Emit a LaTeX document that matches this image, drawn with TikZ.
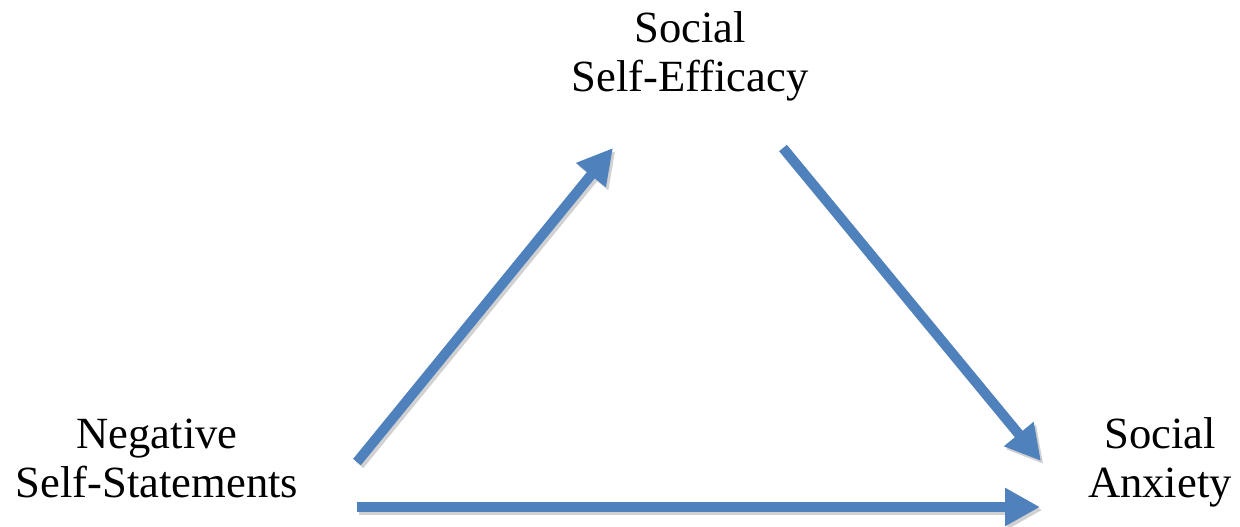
\documentclass[tikz,border=0pt]{standalone}
\usepackage{fontspec}
\setmainfont{Liberation Serif}
\usepackage{tikz}
\usetikzlibrary{arrows.meta}
\definecolor{arrowblue}{HTML}{4F81BD}

\begin{document}
\begin{tikzpicture}[line cap=butt,line join=miter,x=0.5pt,y=-0.5pt,
  label/.style={align=center,inner sep=0pt,font=\fontsize{22.3}{24.5}\selectfont},
  link/.style={draw=arrowblue,line width=5pt,
    -{Triangle[length=17.5pt,width=18pt]},
    preaction={draw=black!18,line width=5pt,transform canvas={shift={(1.2pt,-1.5pt)}}}}]
\useasboundingbox (0,0) rectangle (1240,526);
% the three variables
\node[label] (sse) at (690,56) {Social\\Self-Efficacy};
\node[label] (nss) at (157,458) {Negative\\Self-Statements};
\node[label] (anx) at (1160,462) {Social\\Anxiety};
% arrow ends
\coordinate (nssup) at (357,462);
\coordinate (ssein) at (613,148);
\coordinate (sseout) at (783,148);
\coordinate (anxin) at (1041,461);
\coordinate (nssright) at (357,507);
\coordinate (anxlow) at (1040,507);
\draw[link] (nssup) -- (ssein);
\draw[link] (sseout) -- (anxin);
\draw[link] (nssright) -- (anxlow);
\end{tikzpicture}
\end{document}
